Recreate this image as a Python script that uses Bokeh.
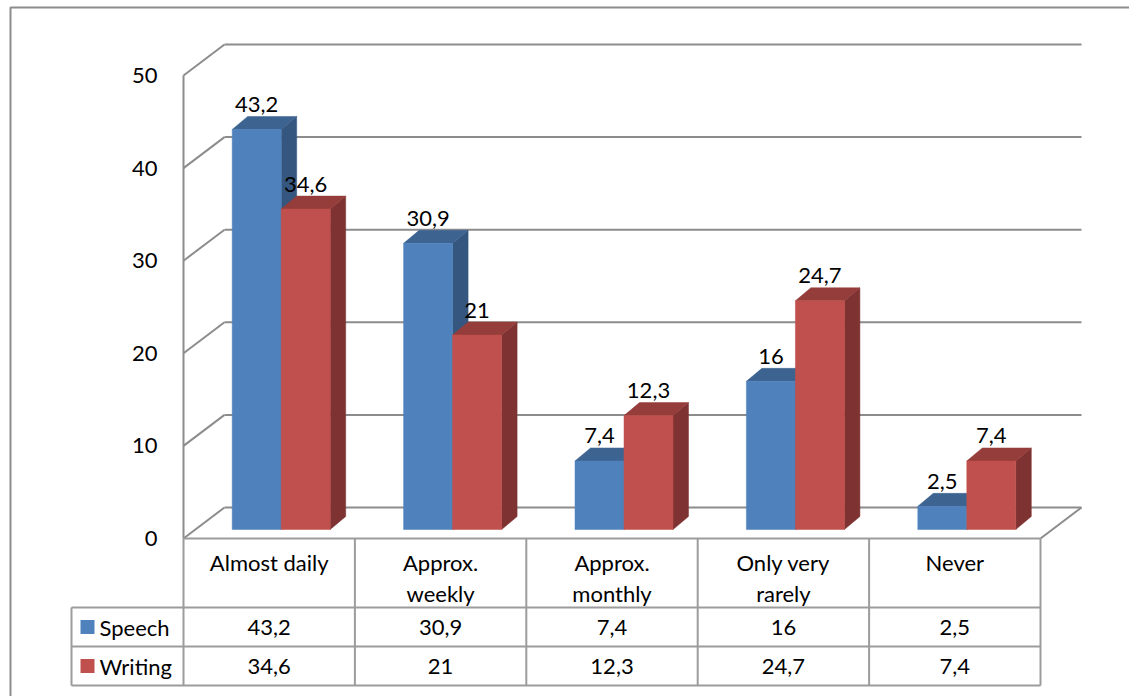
from bokeh.plotting import figure
from bokeh.models import Range1d
from bokeh.core.properties import value
from bokeh.embed import file_html
from bokeh.resources import INLINE

# ---- data -------------------------------------------------------------
categories = ["Almost daily", "Approx.\nweekly", "Approx.\nmonthly", "Only very\nrarely", "Never"]
series_names = ["Speech", "Writing"]
speech = [43.2, 30.9, 7.4, 16, 2.5]
writing = [34.6, 21, 12.3, 24.7, 7.4]
y_ticks = [0, 10, 20, 30, 40, 50]

# ---- style ------------------------------------------------------------
FRONT = ["#4F81BD", "#C0504D"]
TOP = ["#3D6391", "#953D3B"]
SIDE = ["#34567F", "#7E3231"]
GRID = "#8C8C8C"
TABLE = "#9C9C9C"
FONT = value("Lato")
FSIZE = value("22px")

W, H = 1129, 696
CAT_PX = 171.4          # pixels per category slot
VAL_PX = 9.26           # pixels per value unit
X0_PX, Y0_PX = 183, 538  # front-left floor corner on screen

# depth of the 3D box and of the bars, in data units
WALL_DX, WALL_DY = 41 / CAT_PX, 31 / VAL_PX
BAR_DX0, BAR_DY0 = 12 / CAT_PX, 9 / VAL_PX
BAR_DDX, BAR_DDY = 15.5 / CAT_PX, 13 / VAL_PX
BAR_W = 49 / CAT_PX

# data-table geometry (rows hang below the value axis)
ROW1 = -69 / VAL_PX
ROW2 = ROW1 - 39 / VAL_PX
ROW3 = ROW2 - 39 / VAL_PX
TABLE_LEFT = -112 / CAT_PX
KEY_X = TABLE_LEFT + 16 / CAT_PX

n = len(categories)
ymax = y_ticks[-1]

p = figure(width=W, height=H,
           x_range=Range1d(-X0_PX / CAT_PX, (W - X0_PX) / CAT_PX),
           y_range=Range1d(-(H - Y0_PX) / VAL_PX, Y0_PX / VAL_PX),
           x_axis_location=None, y_axis_location=None,
           output_backend="svg", toolbar_location=None,
           min_border=0, outline_line_color=None)
p.grid.visible = False
p.background_fill_color = "white"

# chart-area border
bx = -173 / CAT_PX
by = 531 / VAL_PX
p.line([bx, bx, 10], [-30, by, by], line_color=GRID, line_width=2)

# back wall gridlines, side wall diagonals, front edge, floor edge
p.multi_line([[WALL_DX, n + WALL_DX] for _ in y_ticks],
             [[t + WALL_DY, t + WALL_DY] for t in y_ticks],
             line_color=GRID, line_width=2)
p.multi_line([[0, WALL_DX] for _ in y_ticks],
             [[t, t + WALL_DY] for t in y_ticks],
             line_color=GRID, line_width=2)
p.line([0, 0], [0, ymax], line_color=GRID, line_width=2)
p.line([n, n + WALL_DX], [0, WALL_DY], line_color=GRID, line_width=2)

# 3D columns
for s, vals in enumerate([speech, writing]):
    fx, fy, tx, ty, sx, sy = [], [], [], [], [], []
    for i, v in enumerate(vals):
        l = i + 0.5 - BAR_W + s * BAR_W + BAR_DX0
        r = l + BAR_W
        b = BAR_DY0
        t = v + BAR_DY0
        fx.append([l, r, r, l]); fy.append([b, b, t, t])
        tx.append([l, r, r + BAR_DDX, l + BAR_DDX]); ty.append([t, t, t + BAR_DDY, t + BAR_DDY])
        sx.append([r, r + BAR_DDX, r + BAR_DDX, r]); sy.append([b, b + BAR_DDY, t + BAR_DDY, t])
    p.patches(sx, sy, fill_color=SIDE[s], line_color=SIDE[s], line_width=0.5)
    p.patches(tx, ty, fill_color=TOP[s], line_color=TOP[s], line_width=0.5)
    p.patches(fx, fy, fill_color=FRONT[s], line_color=FRONT[s], line_width=0.5)

def fmt(v):
    return f"{v:g}".replace(".", ",")

# value labels above the columns
for s, vals in enumerate([speech, writing]):
    xs = [i + 0.5 - BAR_W / 2 + s * BAR_W + BAR_DX0 for i in range(n)]
    ys = [v + BAR_DY0 for v in vals]
    p.text(xs, ys, text=[fmt(v) for v in vals], text_align="center",
           text_baseline="alphabetic", y_offset=-25,
           text_font=FONT, text_font_size=FSIZE, text_color="black")

# value axis labels
p.text([0] * len(y_ticks), y_ticks, text=[str(t) for t in y_ticks],
       x_offset=-26, text_align="right", text_baseline="middle",
       text_font=FONT, text_font_size=FSIZE, text_color="black")

# data table grid
p.multi_line([[0, n], [TABLE_LEFT, n], [TABLE_LEFT, n], [TABLE_LEFT, n]],
             [[0, 0], [ROW1, ROW1], [ROW2, ROW2], [ROW3, ROW3]],
             line_color=TABLE, line_width=2)
p.multi_line([[k, k] for k in range(n + 1)] + [[TABLE_LEFT, TABLE_LEFT]],
             [[0, ROW3] for _ in range(n + 1)] + [[ROW1, ROW3]],
             line_color=TABLE, line_width=2)

# category headers
p.text([i + 0.5 for i in range(n)], [0] * n, text=categories,
       text_align="center", text_baseline="top", y_offset=10,
       text_line_height=1.15,
       text_font=FONT, text_font_size=FSIZE, text_color="black")

# table rows: legend key, name, values
row_mid = [(ROW1 + ROW2) / 2, (ROW2 + ROW3) / 2]
for s, vals in enumerate([speech, writing]):
    p.scatter([KEY_X], [row_mid[s]], marker="square", size=14,
              fill_color=FRONT[s], line_color=None)
    p.text([TABLE_LEFT], [row_mid[s]], text=[series_names[s]], x_offset=28,
           text_align="left", text_baseline="middle",
           text_font=FONT, text_font_size=FSIZE, text_color="black")
    p.text([i + 0.5 for i in range(n)], [row_mid[s]] * n,
           text=[fmt(v) for v in vals], text_align="center", text_baseline="middle",
           text_font=FONT, text_font_size=FSIZE, text_color="black")

open("out.html", "w").write(file_html(p, INLINE))
